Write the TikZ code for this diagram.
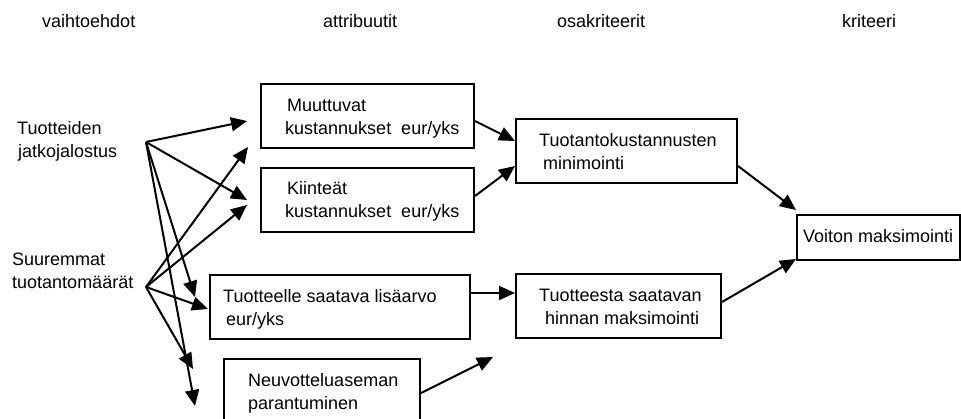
\documentclass[tikz,border=0pt]{standalone}
\usepackage{fontspec}
\setmainfont{Liberation Sans}
\usetikzlibrary{arrows.meta,calc}
\begin{document}
\begin{tikzpicture}[x=1pt,y=-1pt,
  box/.style={draw, line width=2pt, anchor=north west, inner sep=0pt},
  txt/.style={anchor=base west, inner sep=0pt, align=left, font=\fontsize{18}{23}\selectfont},
  arr/.style={line width=2pt, -{Triangle[length=16pt,width=14pt]}}]
\useasboundingbox (0,0) rectangle (961,418);
\fill[white] (0,0) rectangle (961,418);
\clip (0,0) rectangle (961,418);
% column headings
\node[txt] (h1) at (42,27) {vaihtoehdot};
\node[txt] (h2) at (323,27) {attribuutit};
\node[txt] (h3) at (557,27) {osakriteerit};
\node[txt] (h4) at (842,27) {kriteeri};
% alternatives
\node[txt] (alt1) at (17,157) {Tuotteiden\\\hspace*{1pt}jatkojalostus};
\node[txt] (alt2) at (12,288) {Suuremmat\\tuotantomäärät};
\coordinate (ts) at (146,142);
\coordinate (ss) at (146,287);
% attribute boxes
\node[box, minimum width=213pt, minimum height=64pt] (mv) at (260,83) {};
\node[box, minimum width=213pt, minimum height=64pt] (ki) at (260,167) {};
\node[box, minimum width=260pt, minimum height=64pt] (tl) at (209,274) {};
\node[box, minimum width=196pt, minimum height=64pt] (ne) at (223,358) {};
\node[txt] (mvt) at (285,134) {\hspace*{2pt}Muuttuvat\\kustannukset\ \ eur/yks};
\node[txt] (kit) at (285,217) {\hspace*{2pt}Kiinteät\\kustannukset\ \ eur/yks};
\node[txt] (tlt) at (223,325) {Tuotteelle saatava lisäarvo\\\hspace*{3pt}eur/yks};
\node[txt] (net) at (248,409) {Neuvotteluaseman\\parantuminen};
% sub-criteria
\node[box, minimum width=221pt, minimum height=64pt] (tk) at (515,118) {};
\node[box, minimum width=205pt, minimum height=64pt] (th) at (515,273) {};
\node[txt] (tkt) at (539,169) {Tuotantokustannusten\\\hspace*{4pt}minimointi};
\node[txt] (tht) at (539,324) {Tuotteesta saatavan\\\hspace*{6pt}hinnan maksimointi};
% criterion
\node[box, minimum width=163pt, minimum height=45pt] (vo) at (796,214) {};
\node[txt] (vot) at (803,242) {Voiton maksimointi};
\coordinate (free) at (493,357);
% connectors from alternatives
\draw[arr] (ts) -- ($(mv.west)+(-13,5)$);
\draw[arr] (ss) -- ($(mv.south west)+(-12,-2)$);
\draw[arr] (ts) -- ($(ki.west)+(-13,0)$);
\draw[arr] (ss) -- ($(ki.west)+(-13,5)$);
\draw[arr] (ts) -- ($(tl.north west)+(-14,23)$);
\draw[arr] (ss) -- ($(tl.west)+(-1,2)$);
\draw[arr] (ss) -- ($(ne.west)+(-30,-22)$);
\draw[arr] (ts) -- ($(ne.west)+(-28,15)$);
% attributes to sub-criteria
\draw[arr] ($(mv.east)+(0,5)$) -- ($(tk.west)+(0,-10)$);
\draw[arr] ($(ki.east)+(0,-4)$) -- ($(tk.west)+(0,15)$);
\draw[arr] ($(tl.east)+(0,-14)$) -- ($(th.west)+(0,-13)$);
\draw[arr] ($(ne.east)+(0,2)$) -- (free);
% sub-criteria to criterion
\draw[arr] ($(tk.east)+(0,15)$) -- ($(vo.north west)+(0,-4)$);
\draw[arr] ($(th.east)+(0,-4)$) -- ($(vo.south west)+(0,-2)$);
\end{tikzpicture}
\end{document}
